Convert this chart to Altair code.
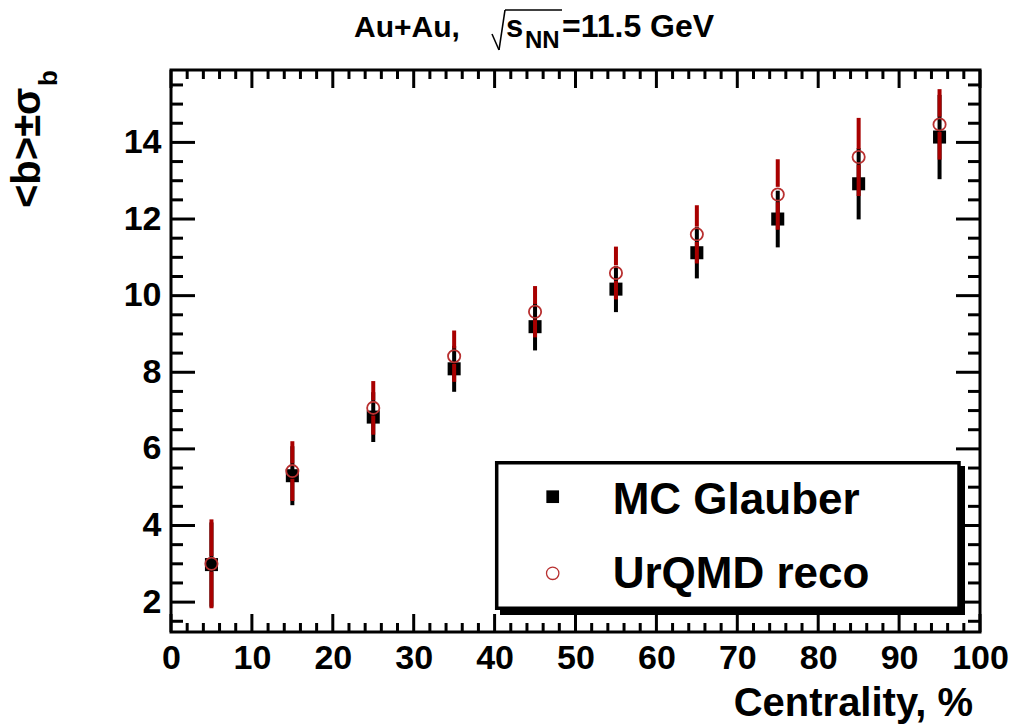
import altair as alt
import pandas as pd

# ---------------- data ----------------
centrality = [5, 15, 25, 35, 45, 55, 65, 75, 85, 95]
glauber_b = [2.98, 5.30, 6.83, 8.09, 9.19, 10.17, 11.12, 12.00, 12.92, 14.14]
glauber_sigma = [1.10, 0.77, 0.65, 0.60, 0.62, 0.60, 0.67, 0.74, 0.93, 1.10]
urqmd_b = [3.00, 5.42, 7.07, 8.42, 9.58, 10.59, 11.60, 12.64, 13.62, 14.47]
urqmd_sigma = [1.16, 0.78, 0.70, 0.67, 0.67, 0.69, 0.76, 0.92, 1.02, 0.92]

x_major = [0, 10, 20, 30, 40, 50, 60, 70, 80, 90, 100]
x_minor = [v for v in range(0, 101, 2) if v % 10 != 0]
y_major = [2, 4, 6, 8, 10, 12, 14]
y_minor = [1.5, 2.5, 3, 3.5, 4.5, 5, 5.5, 6.5, 7, 7.5, 8.5, 9, 9.5, 10.5, 11, 11.5,
           12.5, 13, 13.5, 14.5, 15, 15.5]

legend_labels = ["MC Glauber", "UrQMD reco"]
title_parts = ["Au+Au,", "s", "NN", "=11.5 GeV"]
x_title = "Centrality, %"
y_title = "<b>±σ"
y_title_sub = "b"

# ---------------- layout ----------------
W, H = 809, 562
FONT = "Liberation Sans"
RED = "#a80000"
CIRC = "#b83030"
xs = alt.Scale(domain=[0, 100], nice=False, zero=False)
ys = alt.Scale(domain=[1.22, 15.89], nice=False, zero=False)
GAP = 0.2  # red bar is not drawn inside the open circle marker

df = pd.DataFrame(dict(c=centrality, gb=glauber_b, gs=glauber_sigma,
                       ub=urqmd_b, us=urqmd_sigma))
base = alt.Chart(df).transform_calculate(
    glo="datum.gb - datum.gs", ghi="datum.gb + datum.gs",
    ulo="datum.ub - datum.us", uhi="datum.ub + datum.us",
    ugl=f"datum.ub - {GAP}", ugh=f"datum.ub + {GAP}",
)

xaxis = alt.Axis(values=x_major, title=None, labelFont=FONT, labelFontWeight="bold",
                 labelFontSize=34, labelColor="black", labelPadding=9, ticks=False,
                 domain=False, grid=False, labelFlush=False, labelOverlap=False,
                 format="d")
yaxis = alt.Axis(values=y_major, title=None, labelFont=FONT, labelFontWeight="bold",
                 labelFontSize=34, labelColor="black", labelPadding=10, ticks=False,
                 domain=False, grid=False, labelFlush=False, labelOverlap=False,
                 format="d")

def X(f):
    return alt.X(f, type="quantitative", scale=xs, axis=xaxis)

def Y(f):
    return alt.Y(f, type="quantitative", scale=ys, axis=yaxis)

gbar = base.mark_rule(color="black", strokeWidth=4).encode(
    x=X("c"), y=Y("glo"), y2="ghi:Q")
gsq = base.mark_square(color="black", size=170, opacity=1).encode(x=X("c"), y=Y("gb"))
ubar_lo = base.mark_rule(color=RED, strokeWidth=4).encode(x=X("c"), y=Y("ulo"), y2="ugl:Q")
ubar_hi = base.mark_rule(color=RED, strokeWidth=4).encode(x=X("c"), y=Y("ugh"), y2="uhi:Q")
ucirc = base.mark_point(shape="circle", color=CIRC, size=150, strokeWidth=1.8,
                        filled=False, opacity=1).encode(x=X("c"), y=Y("ub"))

# ---------------- ROOT-style inner ticks ----------------
def xticks(vals, length):
    d = alt.Chart(pd.DataFrame({"c": vals}))
    bot = d.mark_rule(color="black", strokeWidth=3).encode(
        x=X("c"), y=alt.value(H), y2=alt.value(H - length))
    top = d.mark_rule(color="black", strokeWidth=3).encode(
        x=X("c"), y=alt.value(0), y2=alt.value(length))
    return [bot, top]

def yticks(vals, length):
    d = alt.Chart(pd.DataFrame({"gb": vals}))
    left = d.mark_rule(color="black", strokeWidth=3).encode(
        y=Y("gb"), x=alt.value(0), x2=alt.value(length))
    right = d.mark_rule(color="black", strokeWidth=3).encode(
        y=Y("gb"), x=alt.value(W), x2=alt.value(W - length))
    return [left, right]

ticks = xticks(x_major, 18) + xticks(x_minor, 9) + yticks(y_major, 24) + yticks(y_minor, 12)

# ---------------- decorations ----------------
one = alt.Chart(pd.DataFrame({"k": [0]}))

def text(s, x, y, size, align="left", baseline="alphabetic", angle=0):
    return one.mark_text(text=s, font=FONT, fontWeight="bold", fontSize=size,
                         align=align, baseline=baseline, angle=angle,
                         color="black").encode(x=alt.value(x), y=alt.value(y))

def seg(x1, y1, x2, y2, w=1.6):
    return one.mark_rule(color="black", strokeWidth=w).encode(
        x=alt.value(x1), y=alt.value(y1), x2=alt.value(x2), y2=alt.value(y2))

# legend
shadow = one.mark_rect(color="black").encode(
    x=alt.value(329), x2=alt.value(794), y=alt.value(396), y2=alt.value(545))
box = one.mark_rect(fill="white", stroke="black", strokeWidth=3.5).encode(
    x=alt.value(325.7), x2=alt.value(788), y=alt.value(392.7), y2=alt.value(538.3))
leg_sq = one.mark_square(color="black", size=161, opacity=1).encode(
    x=alt.value(381.7), y=alt.value(426.7))
leg_ci = one.mark_point(shape="circle", color=CIRC, size=154, strokeWidth=1.3,
                        filled=False, opacity=1).encode(
    x=alt.value(381.7), y=alt.value(503.3))
leg_t1 = text(legend_labels[0], 441.7, 444, 44)
leg_t2 = text(legend_labels[1], 441.7, 518.3, 44)

# title  Au+Au, sqrt(s_NN)=11.5 GeV   (plot origin is at page 171,70)
TB = -33
t1 = text(title_parts[0], 183, TB, 30)
r1 = seg(321, -36, 328, -20)
r2 = seg(328, -20, 334, -60)
r3 = seg(334, -60, 391, -60)
t2 = text(title_parts[1], 335, TB, 31)
t3 = text(title_parts[2], 354, -22, 24)
t4 = text(title_parts[3], 391, TB, 32)

# axis titles
xt = text(x_title, 802, 646, 40, align="right")
yt = text(y_title, -131, 138, 40, angle=270)
yts = text(y_title_sub, -114, 16, 26, angle=270)

layers = [gbar] + ticks + [gsq, ubar_lo, ubar_hi, ucirc,
                           shadow, box, leg_sq, leg_ci, leg_t1, leg_t2,
                           t1, r1, r2, r3, t2, t3, t4, xt, yt, yts]

chart = alt.layer(*layers).properties(
    width=W, height=H,
    autosize=alt.AutoSizeParams(type="none"),
    padding={"left": 171, "top": 70, "right": 35, "bottom": 93},
    background="white",
).configure_view(stroke="black", strokeWidth=3)

chart.save("out.html", embed_options={"renderer": "svg", "actions": False})
